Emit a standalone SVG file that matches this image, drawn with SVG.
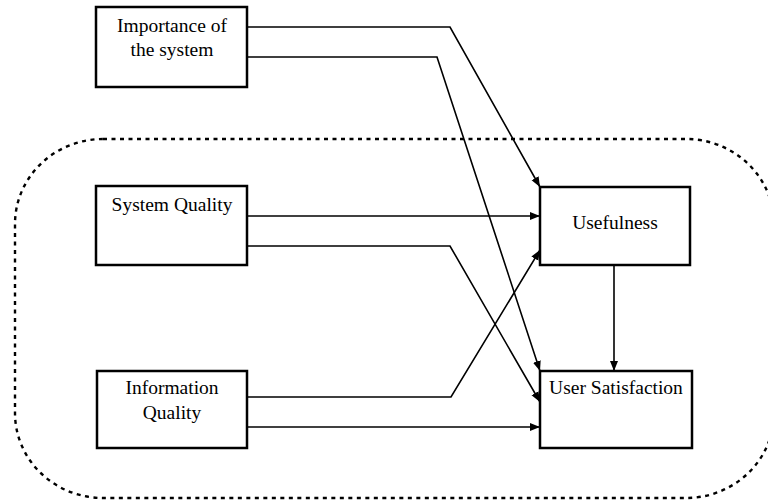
<svg xmlns="http://www.w3.org/2000/svg" width="768" height="501" viewBox="0 0 768 501">
<style>
.box{fill:#fff;stroke:#000;stroke-width:2.5}
.lbl{font-family:"Liberation Serif","Times New Roman",serif;font-size:19.5px;fill:#000;text-anchor:middle}
.conn{fill:none;stroke:#000;stroke-width:1.6;marker-end:url(#arr)}
.scope{fill:none;stroke:#000;stroke-width:2.4;stroke-dasharray:4 4.5}
</style>
<defs>
<marker id="arr" markerUnits="userSpaceOnUse" markerWidth="12" markerHeight="10" refX="10" refY="4" orient="auto">
<path d="M0,0 L10,4 L0,8 Z" fill="#000"/>
</marker>
</defs>
<rect class="scope" x="15" y="139" width="759" height="359" rx="88" ry="85"/>
<g id="connectors">
<path class="conn" d="M247,27 H450 L540,187"/>
<path class="conn" d="M247,57 H437 L540,371"/>
<path class="conn" d="M247,216 H540"/>
<path class="conn" d="M247,246 H450 L540,402"/>
<path class="conn" d="M247,397 H451 L540,250"/>
<path class="conn" d="M247,427 H540"/>
<path class="conn" d="M614,265 V371"/>
</g>
<g id="importance">
<rect class="box" x="96" y="7" width="151" height="80"/>
<text class="lbl" x="172" y="32">Importance of</text>
<text class="lbl" x="172" y="56">the system</text>
</g>
<g id="system-quality">
<rect class="box" x="96" y="186" width="151" height="79"/>
<text class="lbl" x="172" y="211">System Quality</text>
</g>
<g id="information-quality">
<rect class="box" x="97" y="371" width="150" height="77"/>
<text class="lbl" x="172" y="394">Information</text>
<text class="lbl" x="172" y="419">Quality</text>
</g>
<g id="usefulness">
<rect class="box" x="540" y="187" width="150" height="78"/>
<text class="lbl" x="615" y="229">Usefulness</text>
</g>
<g id="user-satisfaction">
<rect class="box" x="540" y="371" width="152" height="77"/>
<text class="lbl" x="616" y="394">User Satisfaction</text>
</g>
</svg>
